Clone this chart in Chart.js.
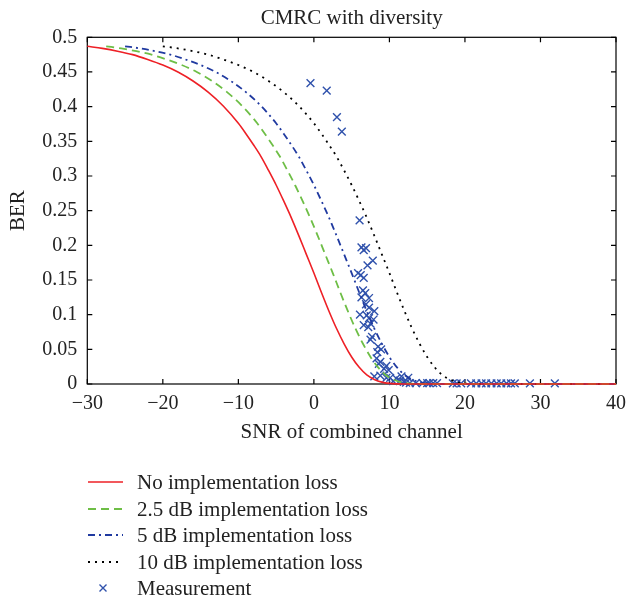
<!DOCTYPE html>
<html>
<head>
<meta charset="utf-8">
<script src="https://cdn.jsdelivr.net/npm/chart.js@4/dist/chart.umd.min.js"></script>
<style>
  html, body { margin: 0; padding: 0; background: #fff; }
  #wrap { position: relative; width: 637px; height: 599px; }
  #legend { position: absolute; left: 0; top: 0; width: 637px; height: 599px; pointer-events: none;
            font-family: 'Liberation Serif', 'Times New Roman', serif; font-size: 21px; color: #222; }
  .row { position: absolute; left: 0; height: 26px; width: 500px; }
  .row svg { position: absolute; left: 86px; top: 0; }
  .row span { position: absolute; left: 137px; top: 0; line-height: 26px; white-space: nowrap; }
</style>
</head>
<body>
<div id="wrap">
  <canvas id="c" width="637" height="599"></canvas>
  <div id="legend"></div>
</div>
<script>
// ---- data ----
const chartTitle = 'CMRC with diversity';
const xTitle = 'SNR of combined channel';
const yTitle = 'BER';
const xTickLabels = ['\u221230', '\u221220', '\u221210', '0', '10', '20', '30', '40'];
const yTickLabels = ['0', '0.05', '0.1', '0.15', '0.2', '0.25', '0.3', '0.35', '0.4', '0.45', '0.5'];
const seriesNames = ['No implementation loss', '2.5 dB implementation loss', '5 dB implementation loss', '10 dB implementation loss', 'Measurement'];

const snrNoLoss = [-30,-28,-26,-24,-22,-20,-18,-16,-14,-12,-10,-9,-8,-7,-6,-5,-4,-3,-2,-1,0,1,2,3,4,5,6,7,8,9,10,11,12,14,40];
const berNoLoss = [0.487,0.484,0.480,0.475,0.468,0.460,0.450,0.437,0.421,0.401,0.376,0.361,0.345,0.328,0.308,0.287,0.264,0.240,0.214,0.187,0.160,0.132,0.105,0.080,0.058,0.039,0.024,0.013,0.0065,0.0027,0.0009,0.0002,0,0,0];

const snrLoss25 = [-27.5,-25.5,-23.5,-21.5,-19.5,-17.5,-15.5,-13.5,-11.5,-9.5,-7.5,-6.5,-5.5,-4.5,-3.5,-2.5,-1.5,-0.5,0.5,1.5,2.5,3.5,4.5,5.5,6.5,7.5,8.5,9.5,10.5,11.5,12.5,13.5,14.5,16.5,40];
const berLoss25 = [0.487,0.484,0.480,0.475,0.468,0.460,0.450,0.437,0.421,0.401,0.376,0.361,0.345,0.328,0.308,0.287,0.264,0.240,0.214,0.187,0.160,0.132,0.105,0.080,0.058,0.039,0.024,0.013,0.0065,0.0027,0.0009,0.0002,0,0,0];

const snrLoss5 = [-25,-23,-21,-19,-17,-15,-13,-11,-9,-7,-5,-4,-3,-2,-1,0,1,2,3,4,5,6,7,8,9,10,11,12,13,14,15,16,17,19,40];
const berLoss5 = [0.487,0.484,0.480,0.475,0.468,0.460,0.450,0.437,0.421,0.401,0.376,0.361,0.345,0.328,0.308,0.287,0.264,0.240,0.214,0.187,0.160,0.132,0.105,0.080,0.058,0.039,0.024,0.013,0.0065,0.0027,0.0009,0.0002,0,0,0];

const snrLoss10 = [-20,-18,-16,-14,-12,-10,-8,-6,-4,-2,0,1,2,3,4,5,6,7,8,9,10,11,12,13,14,15,16,17,18,19,20,21,22,24,40];
const berLoss10 = [0.487,0.484,0.480,0.475,0.468,0.460,0.450,0.437,0.421,0.401,0.376,0.361,0.345,0.328,0.308,0.287,0.264,0.240,0.214,0.187,0.160,0.132,0.105,0.080,0.058,0.039,0.024,0.013,0.0065,0.0027,0.0009,0.0002,0,0,0];

const snrMeas = [-0.45,1.7,3.05,3.7,6.05,
  6.3,6.6,6.9,7.8,7.1,5.85,6.2,6.6,6.5,6.8,6.3,7.3,6.9,7.3,8.0,6.1,7.0,7.3,7.9,6.6,7.2,7.5,
  7.5,7.7,8.5,8.9,8.4,8.3,8.8,8.6,9.6,9.3,9.9,
  8.0,8.8,9.6,10.1,10.9,12.5,11.6,10.5,11.4,11.9,12.2,
  12.7,13.5,14.4,15.0,15.3,15.8,16.3,18.4,18.9,19.5,20.8,21.5,22.2,22.8,23.5,24.2,24.8,25.5,26.1,26.6,28.6,31.9];
const berMeas = [0.434,0.423,0.385,0.364,0.236,
  0.197,0.193,0.196,0.178,0.171,0.160,0.157,0.153,0.135,0.131,0.125,0.124,0.115,0.110,0.105,0.100,0.099,0.095,0.093,0.085,0.082,0.087,
  0.064,0.068,0.054,0.050,0.046,0.037,0.032,0.029,0.026,0.022,0.020,
  0.011,0.012,0.009,0.009,0.008,0.009,0.011,0.004,0.005,0.003,0.002,
  0.0014,0.0014,0.0014,0.0014,0.0014,0.0014,0.0012,0.001,0.001,0.001,0.001,0.001,0.001,0.001,0.001,0.001,0.001,0.001,0.001,0.001,0.001,0.001];

// ---- styles ----
const colRed = 'rgb(238,32,38)';
const colGreen = 'rgb(110,190,70)';
const colBlue = 'rgb(32,58,160)';
const colBlack = '#000';
const colMeas = 'rgb(48,82,172)';
const serif = "'Liberation Serif', 'Times New Roman', serif";

function pts(xs, ys) { return xs.map((x, i) => ({ x: x, y: ys[i] })); }

const framePlugin = {
  id: 'frame',
  beforeDatasetsDraw(chart) {
    const ctx = chart.ctx, a = chart.chartArea;
    const xs = chart.scales.x, ys = chart.scales.y;
    const tl = 5;
    ctx.save();
    ctx.strokeStyle = '#000';
    ctx.lineWidth = 1.2;
    ctx.strokeRect(a.left, a.top, a.right - a.left, a.bottom - a.top);
    ctx.beginPath();
    xs.ticks.forEach(t => {
      const p = xs.getPixelForValue(t.value);
      ctx.moveTo(p, a.bottom); ctx.lineTo(p, a.bottom - tl);
      ctx.moveTo(p, a.top); ctx.lineTo(p, a.top + tl);
    });
    ys.ticks.forEach(t => {
      const p = ys.getPixelForValue(t.value);
      ctx.moveTo(a.left, p); ctx.lineTo(a.left + tl, p);
      ctx.moveTo(a.right, p); ctx.lineTo(a.right - tl, p);
    });
    ctx.stroke();
    ctx.restore();
  }
};

const lineDs = (label, xs, ys, color, width, dash) => ({
  label: label, data: pts(xs, ys), showLine: true, borderColor: color, backgroundColor: color,
  borderWidth: width, borderDash: dash, pointRadius: 0, pointHoverRadius: 0,
  cubicInterpolationMode: 'monotone', clip: false
});

new Chart(document.getElementById('c'), {
  type: 'scatter',
  data: {
    datasets: [
      lineDs(seriesNames[0], snrNoLoss, berNoLoss, colRed, 1.6, []),
      lineDs(seriesNames[1], snrLoss25, berLoss25, colGreen, 1.8, [8, 5]),
      lineDs(seriesNames[2], snrLoss5, berLoss5, colBlue, 1.8, [7, 4, 2, 4]),
      lineDs(seriesNames[3], snrLoss10, berLoss10, colBlack, 1.8, [2, 5]),
      {
        label: seriesNames[4], data: pts(snrMeas, berMeas), showLine: false,
        pointStyle: 'crossRot', pointRadius: 5.5, borderColor: colMeas, backgroundColor: colMeas,
        pointBorderWidth: 1.4, clip: false
      }
    ]
  },
  options: {
    responsive: false,
    animation: false,
    events: [],
    layout: { padding: { left: 0, right: 21, top: 0, bottom: 154 } },
    plugins: { legend: { display: false }, title: { display: false }, tooltip: { enabled: false } },
    scales: {
      xTop: {
        type: 'linear', position: 'top', min: -30, max: 40,
        grid: { display: false }, border: { display: false }, ticks: { display: false },
        title: { display: true, text: chartTitle, color: '#222', font: { family: serif, size: 21 }, padding: { top: 6, bottom: 0 } },
        afterFit(s) { s.height = 37.3; }
      },
      x: {
        type: 'linear', position: 'bottom', min: -30, max: 40,
        grid: { display: false, drawTicks: false }, border: { display: false },
        ticks: { stepSize: 10, padding: 8, color: '#222', font: { family: serif, size: 20 },
                 callback: (v, i) => xTickLabels[i] },
        title: { display: true, text: xTitle, color: '#222', font: { family: serif, size: 21 }, padding: { top: 0, bottom: 0 } },
        afterFit(s) { s.height = 61; }
      },
      y: {
        type: 'linear', position: 'left', min: 0, max: 0.5,
        grid: { display: false, drawTicks: false }, border: { display: false },
        ticks: { stepSize: 0.05, padding: 10, color: '#222', font: { family: serif, size: 20 },
                 callback: (v, i) => yTickLabels[i] },
        title: { display: true, text: yTitle, color: '#222', font: { family: serif, size: 21 }, padding: { top: 6, bottom: 0 } },
        afterFit(s) { s.width = 87.3; }
      }
    }
  },
  plugins: [framePlugin]
});

// ---- legend (HTML, one entry per row) ----
const legendSamples = [
  '<line x1="2" y1="13" x2="37" y2="13" stroke="' + colRed + '" stroke-width="1.6"/>',
  '<line x1="2" y1="13" x2="37" y2="13" stroke="' + colGreen + '" stroke-width="1.8" stroke-dasharray="8,5"/>',
  '<line x1="2" y1="13" x2="37" y2="13" stroke="' + colBlue + '" stroke-width="1.8" stroke-dasharray="7,4,2,4"/>',
  '<line x1="2" y1="13" x2="37" y2="13" stroke="' + colBlack + '" stroke-width="1.8" stroke-dasharray="2,5"/>',
  '<path d="M13.5,9.5 L20.5,16.5 M20.5,9.5 L13.5,16.5" stroke="' + colMeas + '" stroke-width="1.4"/>'
];
const legend = document.getElementById('legend');
seriesNames.forEach((name, i) => {
  const row = document.createElement('div');
  row.className = 'row';
  row.style.top = (482 + 26.5 * i - 13) + 'px';
  row.innerHTML = '<svg width="40" height="26">' + legendSamples[i] + '</svg><span>' + name + '</span>';
  legend.appendChild(row);
});
</script>
</body>
</html>
